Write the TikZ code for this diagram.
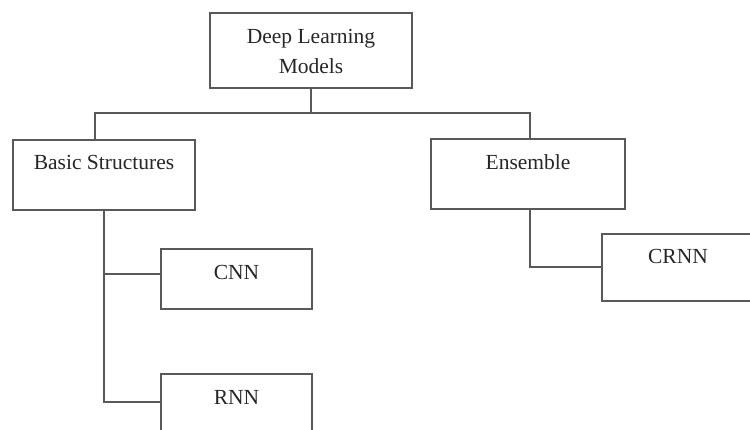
\documentclass[tikz,border=0pt]{standalone}
\usepackage{fontspec}
\setmainfont{Liberation Serif}
\begin{document}
\begin{tikzpicture}[x=1pt,y=-1pt,
  box/.style={draw=black!65, line width=1.3pt, rectangle, inner sep=0pt},
  lbl/.style={font=\fontsize{21.5}{30}\selectfont, text=black!85, inner sep=0pt, align=center},
  conn/.style={draw=black!65, line width=1.3pt}]
\useasboundingbox (0,0) rectangle (750,430);
\clip (0,0) rectangle (750,430);
% boxes
\node[box, minimum width=202pt, minimum height=75pt] (top) at (311,50.5) {};
\node[box, minimum width=182pt, minimum height=70pt] (bs) at (104,175) {};
\node[box, minimum width=194pt, minimum height=70pt] (ens) at (528,174) {};
\node[box, minimum width=151pt, minimum height=60pt] (cnn) at (236.5,279) {};
\node[box, minimum width=151pt, minimum height=86pt] (rnn) at (236.5,417) {};
\node[box, minimum width=178pt, minimum height=67pt] (crnn) at (691,267.5) {};
% labels
\node[lbl] (topT) at (311,51) {Deep Learning\\Models};
\node[lbl] (bsT) at (104,162) {Basic Structures};
\node[lbl] (ensT) at (528,162) {Ensemble};
\node[lbl] (cnnT) at (236.5,272) {CNN};
\node[lbl] (rnnT) at (236.5,397) {RNN};
\node[lbl] (crnnT) at (678,256) {CRNN};
% connectors
\coordinate (j) at (311,113);
\coordinate (bsN) at (95,140);
\coordinate (ensN) at (530,139);
\coordinate (cnnJ) at (104,274);
\coordinate (rnnJ) at (104,402);
\coordinate (cnnW) at (161,274);
\coordinate (rnnW) at (161,402);
\coordinate (crnnW) at (602,267);
\draw[conn] (top.south) -- (j);
\draw[conn] (bsN) |- (j) -| (ensN);
\draw[conn] (bs.south) -- (rnnJ) -- (rnnW);
\draw[conn] (cnnJ) -- (cnnW);
\draw[conn] (ensN |- ens.south) |- (crnnW);
\end{tikzpicture}
\end{document}
